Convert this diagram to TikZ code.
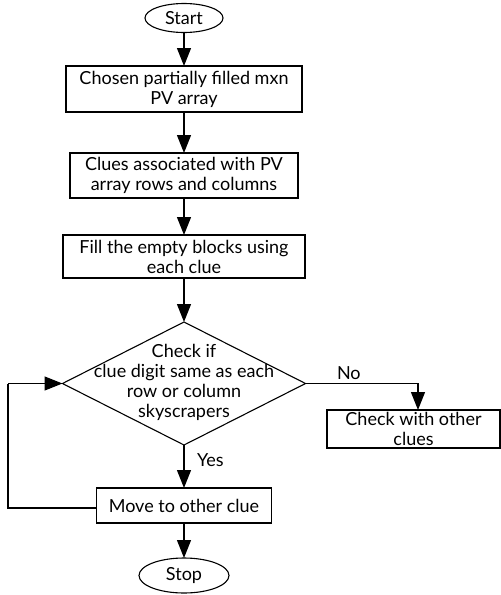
\documentclass[tikz,border=0pt]{standalone}
\usepackage{fontspec}
\setmainfont{Lato}
\usetikzlibrary{arrows.meta,shapes.geometric,positioning}
\begin{document}
\begin{tikzpicture}[x=1pt,y=-1pt,
  font=\fontsize{18}{20}\selectfont,
  every node/.style={inner sep=0pt, outer sep=0pt},
  procbox/.style={draw, line width=1.1pt, align=center},
  term/.style={draw, ellipse, line width=1.1pt},
  decision/.style={draw, diamond, line width=1.1pt},
  flow/.style={line width=1.3pt, -{Triangle[length=18pt,width=14pt]}},
  plain/.style={line width=1.3pt},
  lbl/.style={font=\fontsize{18}{20}\selectfont}]
\useasboundingbox (0,0) rectangle (501,595);

% terminals
\node[term, minimum width=78pt, minimum height=29pt] (start) at (184,18) {Start};
\node[term, minimum width=90pt, minimum height=35pt] (stop) at (184,575.5) {Stop};

% process boxes
\node[procbox, minimum width=236pt, minimum height=46pt] (chosen) at (184,89)
  {Chosen partially filled mxn\\PV array};
\node[procbox, minimum width=228pt, minimum height=45pt] (clues) at (184,175.5)
  {Clues associated with PV\\array rows and columns};
\node[procbox, minimum width=242pt, minimum height=43pt] (fill) at (184,256.5)
  {Fill the empty blocks using\\each clue};

% decision: outline and its text set apart so the outline keeps its size
\node[decision, minimum width=243pt, minimum height=123pt] (check) at (184,383.5) {};
\node[align=center] (checktext) at (184,382)
  {Check if\\clue digit same as each\\row or column\\skyscrapers};

\node[procbox, minimum width=173pt, minimum height=38pt] (other) at (413.5,429)
  {Check with other\\clues};
\node[procbox, minimum width=175pt, minimum height=35pt] (move) at (184,505.5)
  {Move to other clue};

% helper corners
\coordinate (nocorner) at (418,383.5);
\coordinate (loopb) at (8,508);
\coordinate (loopt) at (8,383.5);

% connectors
\draw[flow] (start) -- (chosen);
\draw[flow] (chosen) -- (clues);
\draw[flow] (clues) -- (fill);
\draw[flow] (fill) -- (check.north);
\draw[flow] (check.east) -- (nocorner) -- (nocorner |- other.north);
\draw[flow] (check.south) -- (move.north);
\draw[flow] (move) -- (stop);
\draw[plain] (move.west |- loopb) -- (loopb) -- (loopt);
\draw[flow] (loopt) -- (check.west);

% branch labels
\node[lbl, anchor=west] (nolbl) at (337,373) {No};
\node[lbl, anchor=west] (yeslbl) at (197,460) {Yes};
\end{tikzpicture}
\end{document}
